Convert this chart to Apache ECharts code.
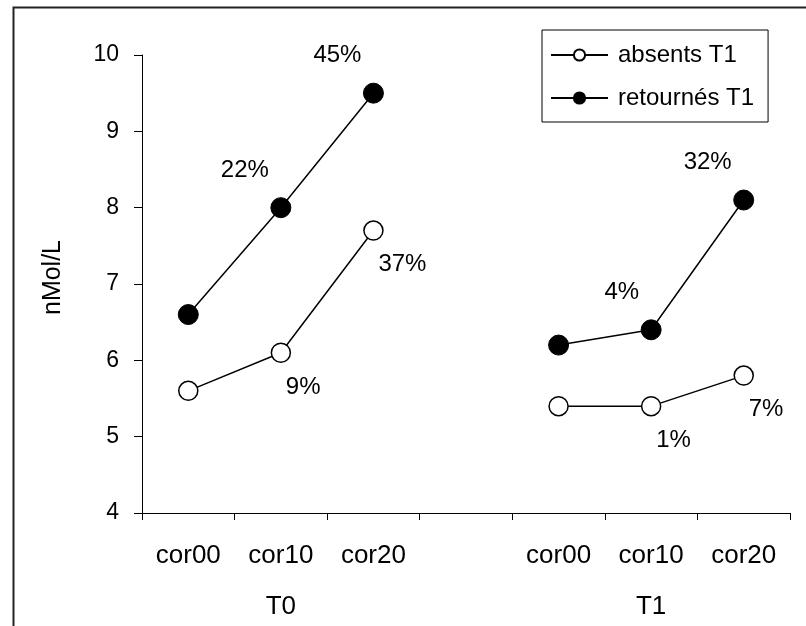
<!DOCTYPE html>
<html>
<head>
<meta charset="utf-8">
<script src="https://cdn.jsdelivr.net/npm/echarts@6/dist/echarts.min.js"></script>
<style>html,body{margin:0;padding:0;background:#fff;}#c{width:806px;height:626px;}</style>
</head>
<body>
<div id="c"></div>
<script>
const categories = ['cor00', 'cor10', 'cor20', '', 'cor00', 'cor10', 'cor20'];
const groupLabels = ['', 'T0', '', '', '', 'T1', ''];
const absents = [5.6, 6.1, 7.7, null, 5.4, 5.4, 5.8];
const retournes = [6.6, 8.0, 9.5, null, 6.2, 6.4, 8.1];
const absentsPct = ['', '9%', '37%', '', '', '1%', '7%'];
const retournesPct = ['', '22%', '45%', '', '', '4%', '32%'];
const yTicks = { min: 4, max: 10, interval: 1 };

const FONT = 'Liberation Sans, Arial, sans-serif';
const chart = echarts.init(document.getElementById('c'));
chart.setOption({
  animation: false,
  backgroundColor: '#fff',
  textStyle: { fontFamily: FONT, color: '#000' },
  graphic: [{
    type: 'rect', left: 11, top: 5, silent: true,
    shape: { width: 900, height: 800 },
    style: { fill: 'none', stroke: '#222', lineWidth: 2 }
  }],
  legend: {
    orient: 'vertical', left: 542, top: 30,
    padding: [13, 14, 12, 8],
    itemWidth: 57, itemHeight: 14, itemGap: 19,
    borderColor: '#000', borderWidth: 1,
    textStyle: { fontFamily: FONT, fontSize: 24, color: '#000', padding: [0, 0, 0, 5] },
    data: ['absents T1', 'retournés T1']
  },
  grid: { left: 142, right: 16, top: 55, bottom: 113, containLabel: false },
  xAxis: [{
    type: 'category', data: categories, position: 'bottom', boundaryGap: true,
    axisLine: { lineStyle: { color: '#000', width: 1 } },
    axisTick: { show: true, interval: 0, length: 7, lineStyle: { color: '#000' } },
    axisLabel: { interval: 0, margin: 30, fontFamily: FONT, fontSize: 26, color: '#000' },
    splitLine: { show: false }
  }, {
    type: 'category', data: groupLabels, position: 'bottom', boundaryGap: true,
    axisLine: { show: false }, axisTick: { show: false },
    axisLabel: { interval: 0, margin: 81, fontFamily: FONT, fontSize: 26, color: '#000' },
    splitLine: { show: false }
  }],
  yAxis: {
    type: 'value', min: yTicks.min, max: yTicks.max, interval: yTicks.interval,
    name: 'nMol/L', nameLocation: 'middle', nameGap: 76,
    nameTextStyle: { fontFamily: FONT, fontSize: 25, color: '#000', padding: [0, 0, 0, 13] },
    axisLine: { show: true, lineStyle: { color: '#000', width: 1 } },
    axisTick: { show: true, length: 8, lineStyle: { color: '#000' } },
    axisLabel: { margin: 23, fontFamily: FONT, fontSize: 23, color: '#000' },
    splitLine: { show: false }
  },
  series: [{
    name: 'absents T1', type: 'line', data: absents, connectNulls: false,
    symbol: 'circle', symbolSize: 19,
    lineStyle: { color: '#000', width: 1.5 },
    itemStyle: { color: '#fff', borderColor: '#000', borderWidth: 1.5 },
    label: {
      show: true, position: 'bottom', distance: 0, align: 'left', verticalAlign: 'middle',
      offset: [5, 24], fontFamily: FONT, fontSize: 24, color: '#000',
      formatter: p => absentsPct[p.dataIndex]
    }
  }, {
    name: 'retournés T1', type: 'line', data: retournes, connectNulls: false,
    symbol: 'circle', symbolSize: 20,
    lineStyle: { color: '#000', width: 1.5 },
    itemStyle: { color: '#000', borderColor: '#000', borderWidth: 1 },
    label: {
      show: true, position: 'top', distance: 0, align: 'right', verticalAlign: 'middle',
      offset: [-12, -27], fontFamily: FONT, fontSize: 24, color: '#000',
      formatter: p => retournesPct[p.dataIndex]
    }
  }]
});
</script>
</body>
</html>
